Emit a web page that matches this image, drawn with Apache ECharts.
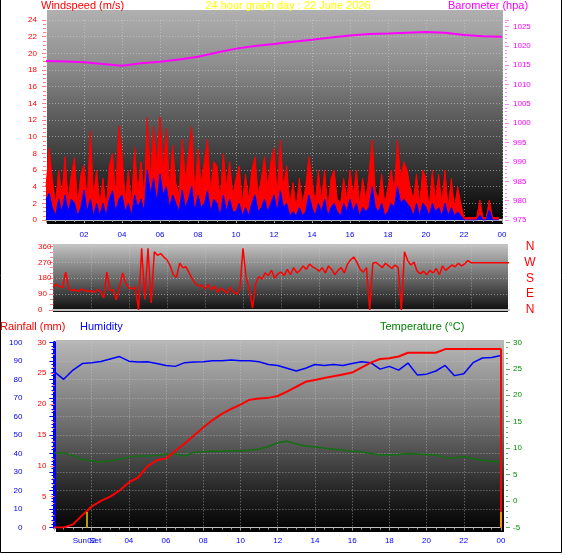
<!DOCTYPE html>
<html>
<head>
<meta charset="utf-8">
<title>24 hour graph</title>
<script src="https://cdn.jsdelivr.net/npm/echarts@6/dist/echarts.min.js"></script>
<style>
html, body { margin: 0; padding: 0; background: #fff; }
#main { width: 566px; height: 555px; }
</style>
</head>
<body>
<div id="main"></div>
<script>
// windspeed, 10 minute steps (one row per hour)
var gust = [
  4, 8.6, 5, 2, 6, 3,
  7.6, 2.5, 5.5, 7.5, 2, 5.5,
  6.6, 2.5, 10.7, 3, 6, 2,
  5, 1.5, 6.5, 8, 3, 11.3,
  8, 2.5, 6, 2, 8.7, 3.5,
  7, 3, 12.3, 5, 11.2, 6.5,
  12.4, 6, 11, 4, 9, 4.5,
  3, 9.7, 5, 8, 11.2, 3.5,
  8.5, 4.5, 7, 9.7, 3.5, 7,
  6.5, 2.5, 8, 4, 7, 3,
  5, 6.5, 2, 5.5, 2.5, 6,
  7.6, 3, 5, 7.6, 4, 7,
  8.6, 3, 9.6, 4, 6.5, 2,
  4.5, 1.5, 5, 2, 4, 7.6,
  5, 2, 6, 2.5, 6, 1.5,
  5, 6, 2.5, 2, 5, 2.5,
  6, 3, 6, 2, 5, 2.5,
  5.5, 9.6, 3.5, 2.5, 5.5, 2,
  4, 6, 3.5, 9.6, 5, 7,
  6, 4, 2.5, 5.5, 2, 6,
  5, 1.5, 6, 2.5, 5.5, 2,
  6, 1.5, 5, 1.5, 4, 2,
  0.3, 0.3, 0.3, 0.3, 0.3, 2.4,
  0.3, 0.3, 2.4, 0.3, 0.3, 0.3
];
var avgWind = [
  2.5, 3.2, 1.5, 0.5, 2.5, 1,
  3, 1, 2.5, 2, 0.5, 1.5,
  3.6, 1, 2.5, 0.5, 2, 0.5,
  2, 0.5, 2.5, 3.5, 1, 2.5,
  3, 1, 2, 0.5, 3, 1.5,
  2.5, 1, 6, 3, 5, 2,
  5.5, 3, 4, 1.5, 3, 2,
  1, 3.6, 1.5, 2.5, 4, 1,
  3, 1.5, 2, 3.5, 1, 2.5,
  2, 0.5, 3, 1, 2.5, 1,
  1, 2, 0.5, 1.5, 0.5, 2,
  3, 1, 1.5, 2.5, 1, 2,
  3, 1, 3.5, 1.5, 2, 0.5,
  1, 0.5, 1.5, 0.5, 1, 3,
  1.5, 0.5, 2, 1, 2.5, 0.5,
  1.5, 2, 1, 0.5, 2, 1,
  2.5, 1, 2, 0.5, 1.5, 1,
  1.5, 4, 1.5, 1, 2, 0.5,
  1, 2, 1.5, 4, 2, 2.5,
  2, 1.5, 0.5, 2, 0.5, 2,
  1.5, 0.5, 2, 1, 1.5, 0.5,
  2, 0.5, 1.5, 0.5, 1, 0.5,
  0, 0, 0, 0, 0, 0.6,
  0, 0, 1.2, 0, 0, 0
];
// barometer, hourly
var baro = [1016.1, 1016.0, 1015.75, 1015.3, 1014.9, 1015.5, 1015.9, 1016.5, 1017.2, 1018.3,
  1019.3, 1020.0, 1020.5, 1021.1, 1021.6, 1022.2, 1022.7, 1023.1, 1023.2, 1023.4,
  1023.6, 1023.4, 1022.8, 1022.5, 1022.4];
// wind direction, 10 minute steps
var windDir = [
  130, 145, 135, 125, 215, 120,
  110, 115, 105, 120, 110, 105,
  110, 100, 115, 105, 68, 215,
  110, 115, 57, 130, 210, 150,
  125, 120, 130, 0, 350, 60,
  350, 40, 330, 310, 320, 300,
  285, 250, 200, 185, 265, 240,
  245, 210, 175, 150, 135, 140,
  120, 145, 115, 135, 100, 125,
  110, 95, 130, 100, 90, 120,
  350, 180, 120, 10, 150, 190,
  175, 210, 195, 225, 180, 205,
  215, 195, 230, 200, 240, 210,
  225, 250, 230, 260, 245, 235,
  220, 240, 210, 250, 230, 200,
  225, 240, 210, 260, 285, 300,
  270, 230, 215, 240, 0, 265,
  270, 255, 240, 265, 250, 235,
  255, 240, 0, 330, 280, 255,
  270, 220, 205, 220, 200, 225,
  210, 235, 200, 250, 225, 240,
  255, 245, 265, 250, 262, 280,
  268, 268, 268, 268, 268, 268,
  268, 268, 268, 268, 268, 268, 268
];
// half hourly values
var rain = [0, 0, 0.5, 2.0, 3.4, 4.3, 5.0, 6.0, 7.3, 8.1,
  9.9, 10.9, 11.2, 12.4, 13.6, 14.9, 16.2, 17.4, 18.4, 19.2,
  19.9, 20.7, 20.9, 21.0, 21.3, 22.0, 22.8, 23.6, 23.9, 24.2,
  24.5, 24.8, 25.1, 25.9, 26.7, 27.3, 27.4, 27.7, 28.3, 28.3,
  28.3, 28.3, 28.9, 28.9, 28.9, 28.9, 28.9, 28.9, 28.9];
var humidity = [84, 80, 85, 88.5, 89, 89.6, 91, 92.3, 89.8, 89.3,
  89.5, 88.5, 87.5, 87, 89, 89.3, 89.5, 90, 90, 90.5,
  90, 90, 89.5, 88, 87.5, 86, 84.5, 86, 88, 87.5,
  88, 87.5, 88.5, 89.5, 89, 85.5, 87, 85, 88.8, 82.4,
  82.8, 84.5, 87.5, 82, 83, 89, 91.5, 91.8, 92.9];
var temperature = [9.1, 9.1, 8.6, 7.8, 7.6, 7.4, 7.6, 7.9, 8.3, 8.5,
  8.5, 8.6, 8.9, 8.9, 8.5, 9.2, 9.3, 9.4, 9.4, 9.5,
  9.5, 9.6, 9.8, 10.3, 11.0, 11.3, 10.8, 10.4, 10.2, 10.0,
  9.8, 9.6, 9.4, 9.3, 9.0, 8.7, 8.7, 8.8, 9.0, 8.9,
  8.8, 8.7, 8.2, 8.1, 8.4, 8.0, 7.7, 7.5, 7.4];
var sunSet = 1.75;
var sunRise = 24;
var dirNames = {0: 'N', 90: 'E', 180: 'S', 270: 'W', 360: 'N'};

function timed(arr, step) {
  return arr.map(function (v, i) { return [i * step, v]; });
}
function hourLabel(v) {
  if (v === 0) return '';
  var h = v % 24;
  return (h < 10 ? '0' : '') + h;
}
function plain(v) { return String(v); }

var dotted = {show: true, lineStyle: {color: 'rgba(210,210,210,0.55)', type: [1, 2], width: 1}};
var font = 'Liberation Sans';

var rainData = timed(rain, 0.5);
rainData.push([24, 0]);

function bg(x, y, w, h, stops) {
  return {
    type: 'rect', z: -10, silent: true,
    shape: {x: x, y: y, width: w, height: h},
    style: {fill: new echarts.graphic.LinearGradient(0, 0, 0, 1, stops)}
  };
}
function txt(x, y, s, color, align) {
  return {
    type: 'text', z: 10, x: x, y: y,
    style: {text: s, fill: color, font: '11px ' + font, align: align || 'left', verticalAlign: 'middle'}
  };
}

var myChart = echarts.init(document.getElementById('main'));
var option = {
  animation: false,
  backgroundColor: '#fff',
  textStyle: {fontFamily: font},
  grid: [
    {left: 46, width: 456, top: 20, height: 200},
    {left: 53, width: 456, top: 246.5, height: 63.5},
    {left: 54.4, width: 446.6, top: 342.3, height: 185.2}
  ],
  graphic: [
    bg(47, 10, 456, 214, [
      {offset: 0, color: '#b0b0b0'}, {offset: 0.25, color: '#8e8e8e'},
      {offset: 0.5, color: '#5c5c5c'}, {offset: 0.78, color: '#2c2c2c'}, {offset: 1, color: '#000'}]),
    bg(53, 244, 455, 68, [
      {offset: 0, color: '#c4c4c4'}, {offset: 0.5, color: '#6a6a6a'}, {offset: 1, color: '#0a0a0a'}]),
    bg(56, 340, 448, 192, [
      {offset: 0, color: '#b8b8b8'}, {offset: 0.45, color: '#6c6c6c'},
      {offset: 0.8, color: '#222'}, {offset: 1, color: '#000'}]),
    {type: 'rect', z: 20, silent: true, shape: {x: 0.5, y: -1, width: 561, height: 553.5},
      style: {fill: null, stroke: '#000', lineWidth: 1}},
    txt(41, 6, 'Windspeed (m/s)', '#ff0000'),
    txt(288, 6, '24 hour graph day : 22 June 2026', '#ffff00', 'center'),
    txt(448, 6, 'Barometer (hpa)', '#ff00ff'),
    txt(0, 327, 'Rainfall (mm)', '#ff0000'),
    txt(80, 327, 'Humidity', '#0000ff'),
    txt(380, 327, 'Temperature (\u00b0C)', '#008000')
  ],
  xAxis: [
    {gridIndex: 0, type: 'value', min: 0, max: 24, interval: 2, position: 'bottom', offset: 4,
      axisLine: {lineStyle: {color: '#c0c0c0', width: 2}},
      axisTick: {length: 3, lineStyle: {color: '#a0a0a0'}},
      minorTick: {show: true, splitNumber: 4, length: 2, lineStyle: {color: '#a0a0a0'}},
      axisLabel: {color: '#0000ff', fontSize: 8, margin: 7, formatter: hourLabel},
      splitLine: dotted},
    {gridIndex: 1, type: 'value', min: 0, max: 24, interval: 2, position: 'bottom',
      axisLine: {lineStyle: {color: '#c0c0c0', width: 2}},
      axisTick: {show: false}, axisLabel: {show: false},
      splitLine: dotted},
    {gridIndex: 2, type: 'value', min: 0, max: 24, interval: 2, position: 'bottom', offset: 4,
      axisLine: {lineStyle: {color: '#c0c0c0', width: 1}},
      axisTick: {length: 3, lineStyle: {color: '#a0a0a0'}},
      minorTick: {show: true, splitNumber: 4, length: 2, lineStyle: {color: '#a0a0a0'}},
      axisLabel: {color: '#0000ff', fontSize: 8, margin: 5, formatter: hourLabel},
      splitLine: dotted},
    {gridIndex: 2, type: 'value', min: 0, max: 24, position: 'bottom', offset: 4,
      axisLine: {show: false}, axisTick: {show: false}, splitLine: {show: false},
      axisLabel: {color: '#0000ff', fontSize: 8, margin: 5, customValues: [sunSet],
        formatter: function () { return 'Sun Set'; }}}
  ],
  yAxis: [
    {gridIndex: 0, type: 'value', min: 0, max: 24, interval: 2, position: 'left',
      axisLine: {show: false},
      axisTick: {length: 4, lineStyle: {color: '#ff8080'}},
      minorTick: {show: true, splitNumber: 4, length: 3, lineStyle: {color: '#ff8080'}},
      axisLabel: {color: '#ff0000', fontSize: 8, margin: 9},
      splitLine: dotted},
    {gridIndex: 0, type: 'value', min: 975, max: 1026.7, interval: 5, position: 'right', offset: 3,
      axisLine: {show: false},
      axisTick: {length: 4, lineStyle: {color: '#ff80ff'}},
      minorTick: {show: true, splitNumber: 5, length: 2, lineStyle: {color: '#ff80ff'}},
      axisLabel: {color: '#ff00ff', fontSize: 8, margin: 8, showMaxLabel: false, formatter: plain},
      splitLine: {show: false}},
    {gridIndex: 1, type: 'value', min: 0, max: 360, interval: 90, position: 'left',
      axisLine: {show: false},
      axisTick: {length: 4, lineStyle: {color: '#ff8080'}},
      minorTick: {show: true, splitNumber: 3, length: 3, lineStyle: {color: '#ff8080'}},
      axisLabel: {color: '#ff0000', fontSize: 8, margin: 15, align: 'left'},
      splitLine: dotted},
    {gridIndex: 1, type: 'value', min: 0, max: 360, interval: 90, position: 'right',
      axisLine: {show: false}, axisTick: {show: false}, splitLine: {show: false},
      axisLabel: {color: '#ff0000', fontSize: 12, margin: 21, align: 'center',
        formatter: function (v) { return dirNames[v]; }}},
    {gridIndex: 2, type: 'value', min: 0, max: 30, interval: 5, position: 'left',
      axisLine: {show: false},
      axisTick: {length: 4, lineStyle: {color: '#ff8080'}},
      minorTick: {show: true, splitNumber: 5, length: 2, lineStyle: {color: '#ff8080'}},
      axisLabel: {color: '#ff0000', fontSize: 8, margin: 8},
      splitLine: {show: false}},
    {gridIndex: 2, type: 'value', min: 0, max: 100, interval: 10, position: 'left', offset: 24,
      axisLine: {show: true, lineStyle: {color: '#0000ff', width: 3}},
      axisTick: {length: 5, lineStyle: {color: '#0000ff'}},
      minorTick: {show: true, splitNumber: 5, length: 3, lineStyle: {color: '#0000ff'}},
      axisLabel: {color: '#0000ff', fontSize: 8, margin: 8},
      splitLine: dotted},
    {gridIndex: 2, type: 'value', min: -5, max: 30, interval: 5, position: 'right', offset: 5,
      axisLine: {show: false},
      axisTick: {length: 4, lineStyle: {color: '#60b060'}},
      minorTick: {show: true, splitNumber: 5, length: 2, lineStyle: {color: '#60b060'}},
      axisLabel: {color: '#009000', fontSize: 8, margin: 7},
      splitLine: {show: false}}
  ],
  series: [
    {name: 'Gust', type: 'line', xAxisIndex: 0, yAxisIndex: 0, data: timed(gust, 1 / 6),
      symbol: 'none', z: 2, lineStyle: {color: '#ff0000', width: 1},
      areaStyle: {color: '#ff0000', opacity: 1}},
    {name: 'Average', type: 'line', xAxisIndex: 0, yAxisIndex: 0, data: timed(avgWind, 1 / 6),
      symbol: 'none', z: 3, lineStyle: {color: '#0000ff', width: 1},
      areaStyle: {color: '#0000ff', opacity: 1}},
    {name: 'Barometer', type: 'line', xAxisIndex: 0, yAxisIndex: 1, data: timed(baro, 1),
      symbol: 'none', z: 4, lineStyle: {color: '#ff00ff', width: 2}},
    {name: 'Direction', type: 'line', xAxisIndex: 1, yAxisIndex: 2, data: timed(windDir, 1 / 6),
      symbol: 'none', lineStyle: {color: '#ff0000', width: 1.5}},
    {name: 'Humidity', type: 'line', xAxisIndex: 2, yAxisIndex: 5, data: timed(humidity, 0.5),
      symbol: 'none', lineStyle: {color: '#0000ff', width: 1.5}},
    {name: 'Temperature', type: 'line', xAxisIndex: 2, yAxisIndex: 6, data: timed(temperature, 0.5),
      symbol: 'none', lineStyle: {color: '#107010', width: 1.5}},
    {name: 'Rainfall', type: 'line', xAxisIndex: 2, yAxisIndex: 4, data: rainData,
      symbol: 'none', z: 4, lineStyle: {color: '#ff0000', width: 2},
      markLine: {
        silent: true, symbol: 'none', label: {show: false},
        data: [
          [{coord: [sunSet, 0], lineStyle: {color: '#b0a000', width: 2, type: 'solid'}}, {coord: [sunSet, 2.5]}],
          [{coord: [sunRise, 0], lineStyle: {color: '#ff9000', width: 2, type: 'solid'}}, {coord: [sunRise, 2.5]}]
        ]
      }}
  ]
};
myChart.setOption(option);
</script>
</body>
</html>
